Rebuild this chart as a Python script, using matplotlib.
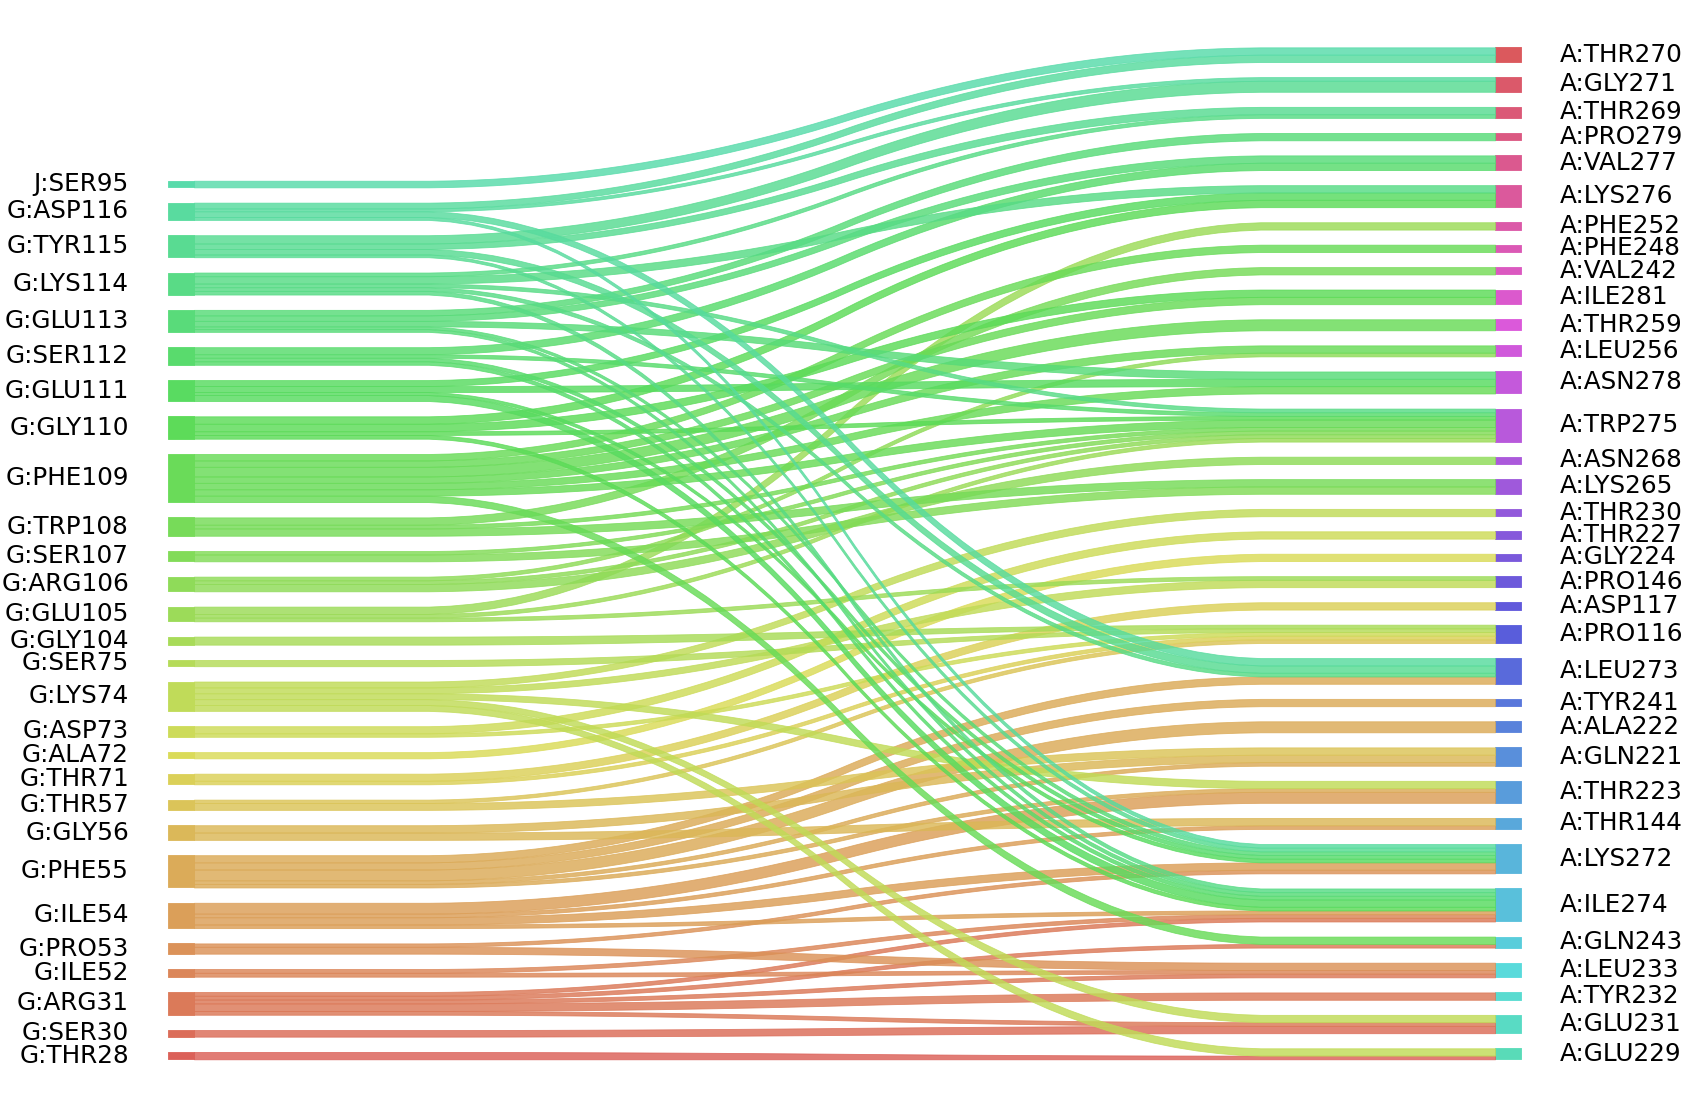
import colorsys
import numpy as np
import matplotlib
matplotlib.use("Agg")
import matplotlib.pyplot as plt

# ---------------- data ----------------
left_labels = ["G:THR28", "G:SER30", "G:ARG31", "G:ILE52", "G:PRO53", "G:ILE54",
               "G:PHE55", "G:GLY56", "G:THR57", "G:THR71", "G:ALA72", "G:ASP73",
               "G:LYS74", "G:SER75", "G:GLY104", "G:GLU105", "G:ARG106", "G:SER107",
               "G:TRP108", "G:PHE109", "G:GLY110", "G:GLU111", "G:SER112", "G:GLU113",
               "G:LYS114", "G:TYR115", "G:ASP116", "J:SER95"]
left_totals = [2.0, 1.8, 6.2, 2.1, 2.8, 6.9, 8.8, 4.0, 2.8, 2.9, 1.7, 2.9, 8.0, 1.7,
               2.2, 4.0, 4.0, 2.8, 5.0, 13.1, 6.1, 5.7, 4.8, 6.0, 6.0, 6.0, 4.7, 1.8]
right_labels = ["A:GLU229", "A:GLU231", "A:TYR232", "A:LEU233", "A:GLN243", "A:ILE274",
                "A:LYS272", "A:THR144", "A:THR223", "A:GLN221", "A:ALA222", "A:TYR241",
                "A:LEU273", "A:PRO116", "A:ASP117", "A:PRO146", "A:GLY224", "A:THR227",
                "A:THR230", "A:LYS265", "A:ASN268", "A:TRP275", "A:ASN278", "A:LEU256",
                "A:THR259", "A:ILE281", "A:VAL242", "A:PHE248", "A:PHE252", "A:LYS276",
                "A:VAL277", "A:PRO279", "A:THR269", "A:GLY271", "A:THR270"]

link_src = ["J:SER95",
            "G:ASP116", "G:ASP116", "G:ASP116", "G:ASP116",
            "G:TYR115", "G:TYR115", "G:TYR115", "G:TYR115",
            "G:LYS114", "G:LYS114", "G:LYS114", "G:LYS114", "G:LYS114",
            "G:GLU113", "G:GLU113", "G:GLU113", "G:GLU113", "G:GLU113",
            "G:SER112", "G:SER112", "G:SER112", "G:SER112",
            "G:GLU111", "G:GLU111", "G:GLU111", "G:GLU111",
            "G:GLY110", "G:GLY110", "G:GLY110", "G:GLY110",
            "G:PHE109", "G:PHE109", "G:PHE109", "G:PHE109", "G:PHE109", "G:PHE109", "G:PHE109",
            "G:TRP108", "G:TRP108", "G:TRP108",
            "G:SER107", "G:SER107",
            "G:ARG106", "G:ARG106", "G:ARG106",
            "G:GLU105", "G:GLU105", "G:GLU105",
            "G:GLY104",
            "G:SER75",
            "G:LYS74", "G:LYS74", "G:LYS74", "G:LYS74", "G:LYS74",
            "G:ASP73", "G:ASP73",
            "G:ALA72",
            "G:THR71", "G:THR71",
            "G:THR57", "G:THR57",
            "G:GLY56", "G:GLY56",
            "G:PHE55", "G:PHE55", "G:PHE55", "G:PHE55", "G:PHE55",
            "G:ILE54", "G:ILE54", "G:ILE54", "G:ILE54",
            "G:PRO53", "G:PRO53",
            "G:ILE52", "G:ILE52",
            "G:ARG31", "G:ARG31", "G:ARG31", "G:ARG31", "G:ARG31",
            "G:SER30",
            "G:THR28"]
link_dst = ["A:THR270",
            "A:THR270", "A:GLY271", "A:LEU273", "A:LYS272",
            "A:GLY271", "A:THR269", "A:LEU273", "A:LYS272",
            "A:THR269", "A:LYS276", "A:TRP275", "A:LEU273", "A:ILE274",
            "A:PRO279", "A:VAL277", "A:ASN278", "A:LYS272", "A:ILE274",
            "A:VAL277", "A:TRP275", "A:LYS272", "A:ILE274",
            "A:LYS276", "A:ASN278", "A:LYS272", "A:ILE274",
            "A:LYS276", "A:ILE281", "A:TRP275", "A:ILE274",
            "A:PHE248", "A:ILE281", "A:THR259", "A:LEU256", "A:ASN278", "A:TRP275", "A:GLN243",
            "A:VAL242", "A:TRP275", "A:LYS265",
            "A:TRP275", "A:LYS265",
            "A:LEU256", "A:TRP275", "A:ASN268",
            "A:PHE252", "A:TRP275", "A:PRO146",
            "A:PRO116",
            "A:PRO116",
            "A:GLU229", "A:GLU231", "A:THR223", "A:PRO146", "A:THR230",
            "A:THR227", "A:PRO116",
            "A:GLY224",
            "A:ASP117", "A:PRO116",
            "A:PRO116", "A:GLN221",
            "A:GLN221", "A:THR144",
            "A:LEU273", "A:TYR241", "A:ALA222", "A:GLN221", "A:THR223",
            "A:THR223", "A:THR144", "A:LYS272", "A:ILE274",
            "A:LYS272", "A:LEU233",
            "A:ILE274", "A:LEU233",
            "A:ILE274", "A:GLN243", "A:LEU233", "A:TYR232", "A:GLU231",
            "A:GLU231",
            "A:GLU229"]
link_weight = [2,
               2, 1, 2, 1,
               3, 2, 2, 1,
               1, 2, 1, 1, 1,
               2, 2, 2, 1, 1,
               2, 1, 1, 1,
               2, 2, 1, 2,
               2, 2, 1, 1,
               2, 2, 3, 2, 2, 2, 2,
               2, 1, 2,
               1, 2,
               1, 1, 2,
               2, 1, 1,
               1,
               1,
               2, 2, 2, 2, 2,
               2, 1,
               2,
               2, 1,
               1, 2,
               2, 2,
               2, 2, 3, 1, 1,
               3, 1, 2, 1,
               1, 2,
               1, 1,
               1, 1, 1, 2, 1,
               2,
               1]

# ---------------- layout ----------------
W, H, DPI = 1684, 1108, 100
fig = plt.figure(figsize=(W / DPI, H / DPI), dpi=DPI)
ax = fig.add_axes([0, 0, 1, 1])
px_x0, px_x1 = 194.0, 1495.0        # pixel x of x=0 and x=1
px_y0, unit_px = 1059.3, 3.67        # pixel y of y=0, pixels per weight unit
ax.set_xlim(-px_x0 / (px_x1 - px_x0), (W - px_x0) / (px_x1 - px_x0))
ax.set_ylim(-(H - px_y0) / unit_px, px_y0 / unit_px)
ax.axis("off")

gap_left, gap_right = 4.17, 4.11
all_labels = left_labels + right_labels
hues = (np.linspace(0, 1, len(all_labels) + 1)[:-1] + 0.01) % 1
color = {lab: colorsys.hls_to_rgb(h, 0.6, 0.65) for lab, h in zip(all_labels, hues)}

# per-link widths at the left end (scaled to the left node totals)
node_sum = {l: 0.0 for l in left_labels}
for s, w in zip(link_src, link_weight):
    node_sum[s] += w
left_w = [w * left_totals[left_labels.index(s)] / node_sum[s]
          for s, w in zip(link_src, link_weight)]
right_tot = {r: 0.0 for r in right_labels}
for d, w in zip(link_dst, link_weight):
    right_tot[d] += w

# node positions
lpos, y = {}, 0.0
for lab, tot in zip(left_labels, left_totals):
    lpos[lab] = [y, y + tot]
    y += tot + gap_left
rpos, y = {}, 0.0
for lab in right_labels:
    rpos[lab] = [y, y + right_tot[lab]]
    y += right_tot[lab] + gap_right

FS = 17.8
# bars and labels
for lab in left_labels:
    b, t = lpos[lab]
    ax.fill_between([-0.02, 0], [b, b], [t, t], color=color[lab], alpha=0.99, lw=0.6)
    ax.text(-0.05, (b + t) / 2, lab, ha="right", va="center", fontsize=FS)
for lab in right_labels:
    b, t = rpos[lab]
    ax.fill_between([1, 1.02], [b, b], [t, t], color=color[lab], alpha=0.99, lw=0.6)
    ax.text(1.05, (b + t) / 2, lab, ha="left", va="center", fontsize=FS)

# strips: left stacks in right-label order, right stacks in left-label order
lcur = {l: lpos[l][0] for l in left_labels}
rcur = {r: rpos[r][0] for r in right_labels}
order = sorted(range(len(link_src)),
               key=lambda k: (left_labels.index(link_src[k]), right_labels.index(link_dst[k])))
kern = 0.05 * np.ones(20)
for k in order:
    s, d = link_src[k], link_dst[k]
    lb = lcur[s]; lt = lb + left_w[k]; lcur[s] = lt
    rb = rcur[d]; rt = rb + link_weight[k]; rcur[d] = rt
    yd = np.array(50 * [lb] + 50 * [rb])
    yu = np.array(50 * [lt] + 50 * [rt])
    yd = np.convolve(np.convolve(yd, kern, mode="valid"), kern, mode="valid")
    yu = np.convolve(np.convolve(yu, kern, mode="valid"), kern, mode="valid")
    xs = np.linspace(0, 1, len(yd))
    ax.fill_between(xs, yd, yu, color=color[s], alpha=0.82, lw=0.6)

fig.savefig("out.png", dpi=DPI)
